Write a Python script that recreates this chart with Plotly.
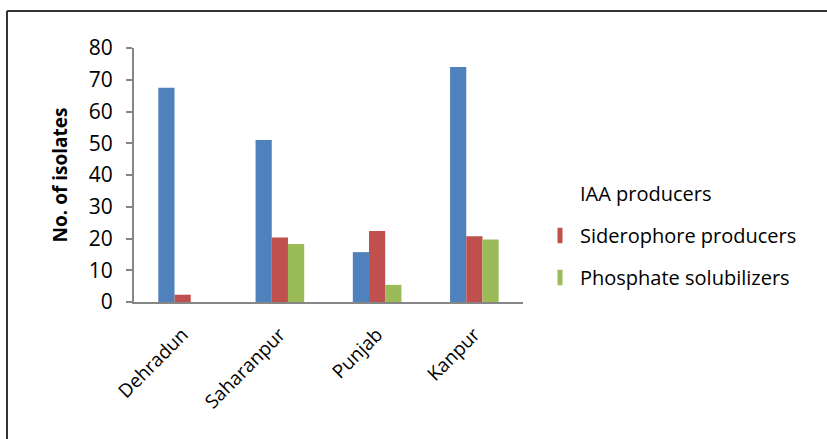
import plotly.graph_objects as go

categories = ["Dehradun", "Saharanpur", "Punjab", "Kanpur"]
iaa = [67.5, 51.0, 15.7, 74.0]
siderophore = [2.3, 20.3, 22.4, 20.7]
phosphate = [0, 18.3, 5.4, 19.7]
series_names = ["IAA producers", "Siderophore producers", "Phosphate solubilizers"]
colors = ["#4F81BD", "#C0504D", "#9BBB59"]
legend_colors = ["rgba(0,0,0,0)", "#C0504D", "#9BBB59"]
y_ticks = [0, 10, 20, 30, 40, 50, 60, 70, 80]

FONT = "Open Sans"
W, H = 827, 439
L, R, T, B = 134, 304, 48, 137

fig = go.Figure()
for name, vals, col in zip(series_names, [iaa, siderophore, phosphate], colors):
    fig.add_trace(go.Bar(x=categories, y=vals, name=name, marker=dict(color=col, line=dict(width=0)),
                         showlegend=False))
for i, (name, col) in enumerate(zip(series_names, legend_colors)):
    fig.add_trace(go.Scatter(x=[None], y=[None], mode="markers", name=name, legendgroup=f"g{i}",
                             marker=dict(symbol="line-ns", size=11, color=col,
                                         line=dict(width=8, color=col))))

fig.update_layout(
    width=W, height=H,
    margin=dict(l=L, r=R, t=T, b=B, autoexpand=False),
    paper_bgcolor="white", plot_bgcolor="white",
    barmode="group", bargap=0.5, bargroupgap=0,
    font=dict(family=FONT, color="black", size=19),
    showlegend=True,
    legend=dict(xref="container", yref="container", x=540 / W, y=1 - 174 / H,
                xanchor="left", yanchor="top", font=dict(size=20, family=FONT),
                traceorder="grouped", tracegroupgap=13, bgcolor="rgba(0,0,0,0)"),
    shapes=[
        dict(type="line", xref="paper", yref="paper",
             x0=(7 - L) / (W - L - R), x1=(W + 5 - L) / (W - L - R),
             y0=(H - B - 11) / (H - T - B), y1=(H - B - 11) / (H - T - B),
             line=dict(color="#333333", width=2)),
        dict(type="line", xref="paper", yref="paper",
             x0=(7 - L) / (W - L - R), x1=(7 - L) / (W - L - R),
             y0=(H - B - 11) / (H - T - B), y1=(H - B - H - 5) / (H - T - B),
             line=dict(color="#333333", width=2)),
    ],
)
fig.update_yaxes(range=[0, 80], tickvals=y_ticks, ticks="outside", ticklen=6, tickcolor="#868686",
                 tickwidth=2, showline=True, linecolor="#868686", linewidth=2, showgrid=False,
                 zeroline=False, tickfont=dict(size=21), ticklabelstandoff=9,
                 title=dict(text="<b>No. of isolates</b>", font=dict(size=19), standoff=16))
fig.update_xaxes(showline=True, linecolor="#868686", linewidth=2, showgrid=False, tickangle=-45,
                 ticks="outside", ticklen=12, tickcolor="rgba(0,0,0,0)", tickfont=dict(size=19))

fig.write_html("out.html", config={"displayModeBar": False},
               post_script="document.body.style.margin='0';")
